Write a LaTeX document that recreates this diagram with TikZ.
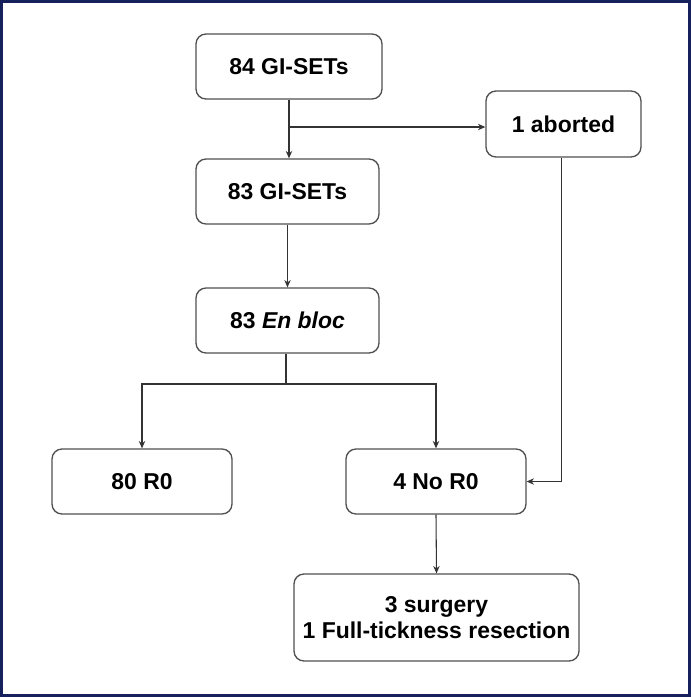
\documentclass[tikz,border=0pt]{standalone}
\usepackage{fontspec}
\setmainfont{Liberation Sans}
\usetikzlibrary{arrows.meta}
\definecolor{frame}{RGB}{22,32,92}
\definecolor{boxline}{RGB}{80,80,80}
\begin{document}
\begin{tikzpicture}[x=0.75pt,y=-0.75pt,
  box/.style={draw=boxline,line width=1pt,rounded corners=7.5pt,inner sep=0pt,align=center,
    font=\fontsize{17.2}{19.5}\selectfont\bfseries},
  conn/.style={draw=black!80,line width=0.8pt},
  arr/.style={conn,-{Stealth[length=5.5pt,width=4.8pt]}}]
\useasboundingbox (0,0) rectangle (691,697);
\draw[frame,line width=2.4pt] (1.5,1.5) rectangle (689.5,695.5);
\node[box,minimum width=139.5pt,minimum height=48.75pt] (a) at (289,66.5) {84 GI-SETs};
\node[box,minimum width=116.25pt,minimum height=49.5pt] (ab) at (563.5,124) {1 aborted};
\node[box,minimum width=137.25pt,minimum height=48.75pt] (b) at (287.5,191.5) {83 GI-SETs};
\node[box,minimum width=137.25pt,minimum height=48.75pt] (c) at (287.5,320.5) {83 \textit{En bloc}};
\node[box,minimum width=135pt,minimum height=48.75pt] (r0) at (142,481.5) {80 R0};
\node[box,minimum width=135pt,minimum height=48.75pt] (nr) at (436,481.5) {4 No R0};
\node[box,minimum width=213.75pt,minimum height=65.25pt] (s) at (436.5,617.5) {3 surgery\\1 Full-tickness resection};
\coordinate (br) at (289,127);
\coordinate (sp) at (286,384);
\draw[arr] (a.south -| br) -- (br |- b.north);
\draw[arr] (br) -- (br -| ab.west);
\draw[arr] (b.south) -- (c.north);
\draw[conn] (c.south -| sp) -- (sp);
\draw[arr] (sp) -| (r0.north);
\draw[arr] (sp) -| (nr.north);
\draw[arr] ([xshift=-1.5pt]ab.south) |- (nr.east);
\draw[arr] (nr.south) -- (s.north);
\end{tikzpicture}
\end{document}
